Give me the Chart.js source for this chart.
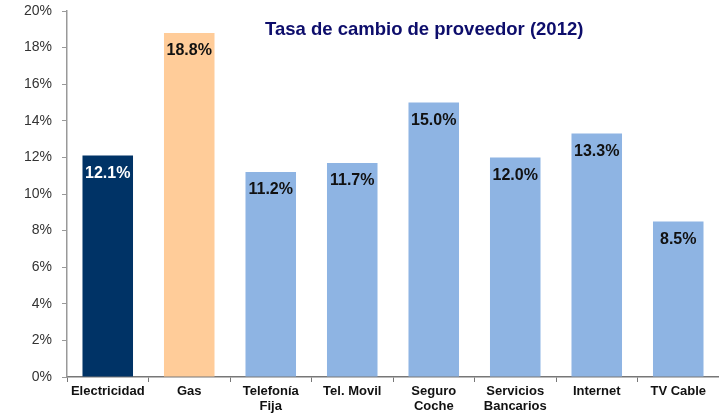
<!DOCTYPE html>
<html>
<head>
<meta charset="utf-8">
<script src="https://cdn.jsdelivr.net/npm/chart.js@4/dist/chart.umd.min.js"></script>
<style>
  html, body { margin: 0; padding: 0; background: #fff; }
  #wrap { width: 719px; height: 413px; }
</style>
</head>
<body>
<div id="wrap"><canvas id="chart" width="719" height="413"></canvas></div>
<script>
const categories = ["Electricidad", "Gas", ["Telefonía", "Fija"], "Tel. Movil", ["Seguro", "Coche"], ["Servicios", "Bancarios"], "Internet", "TV Cable"];
const values = [12.1, 18.8, 11.2, 11.7, 15.0, 12.0, 13.3, 8.5];
const barColors = ["#003366", "#FFCC99", "#8EB4E3", "#8EB4E3", "#8EB4E3", "#8EB4E3", "#8EB4E3", "#8EB4E3"];
const labelColors = ["#ffffff", "#111111", "#111111", "#111111", "#111111", "#111111", "#111111", "#111111"];
const titleText = "Tasa de cambio de proveedor (2012)";

const font = "'Liberation Sans', Arial, sans-serif";

const valueLabels = {
  id: "valueLabels",
  afterDatasetsDraw(chart) {
    const ctx = chart.ctx;
    const meta = chart.getDatasetMeta(0);
    ctx.save();
    ctx.font = "bold 16px " + font;
    ctx.textAlign = "center";
    ctx.textBaseline = "middle";
    meta.data.forEach((bar, i) => {
      ctx.fillStyle = labelColors[i];
      ctx.fillText(values[i].toFixed(1) + "%", bar.x, bar.y + 18);
    });
    ctx.restore();
  }
};

const innerTitle = {
  id: "innerTitle",
  afterDraw(chart) {
    const ctx = chart.ctx;
    ctx.save();
    ctx.font = "bold 18.5px " + font;
    ctx.fillStyle = "#0d0d6b";
    ctx.textAlign = "left";
    ctx.textBaseline = "middle";
    ctx.fillText(titleText, 265, 30);
    ctx.restore();
  }
};

new Chart(document.getElementById("chart"), {
  type: "bar",
  data: {
    labels: categories,
    datasets: [{
      data: values,
      backgroundColor: barColors,
      borderWidth: 0,
      barPercentage: 0.62,
      categoryPercentage: 1.0
    }]
  },
  plugins: [valueLabels, innerTitle],
  options: {
    responsive: false,
    animation: false,
    layout: { padding: { top: 11, left: 0, right: 0, bottom: 0 } },
    plugins: {
      legend: { display: false },
      tooltip: { enabled: false }
    },
    scales: {
      x: {
        afterFit(scale) {
          scale.height = 36;
          scale.paddingLeft = 0;
          scale.paddingRight = 0;
        },
        grid: { drawOnChartArea: false, drawTicks: true, tickLength: 5, color: "#777", offset: true },
        border: { display: true, color: "#777", width: 1.5 },
        ticks: {
          color: "#111",
          font: { family: font, size: 13, weight: "bold", lineHeight: 1.15 },
          padding: 2,
          maxRotation: 0,
          autoSkip: false
        }
      },
      y: {
        min: 0,
        max: 20,
        afterFit(scale) {
          scale.width = 67;
          scale.paddingTop = 0;
          scale.paddingBottom = 0;
        },
        grid: { drawOnChartArea: false, drawTicks: true, tickLength: 5, color: "#999" },
        border: { display: true, color: "#999", width: 1.5 },
        ticks: {
          stepSize: 2,
          color: "#333",
          padding: 10,
          font: { family: font, size: 14 },
          callback: v => v + "%"
        }
      }
    }
  }
});
</script>
</body>
</html>
